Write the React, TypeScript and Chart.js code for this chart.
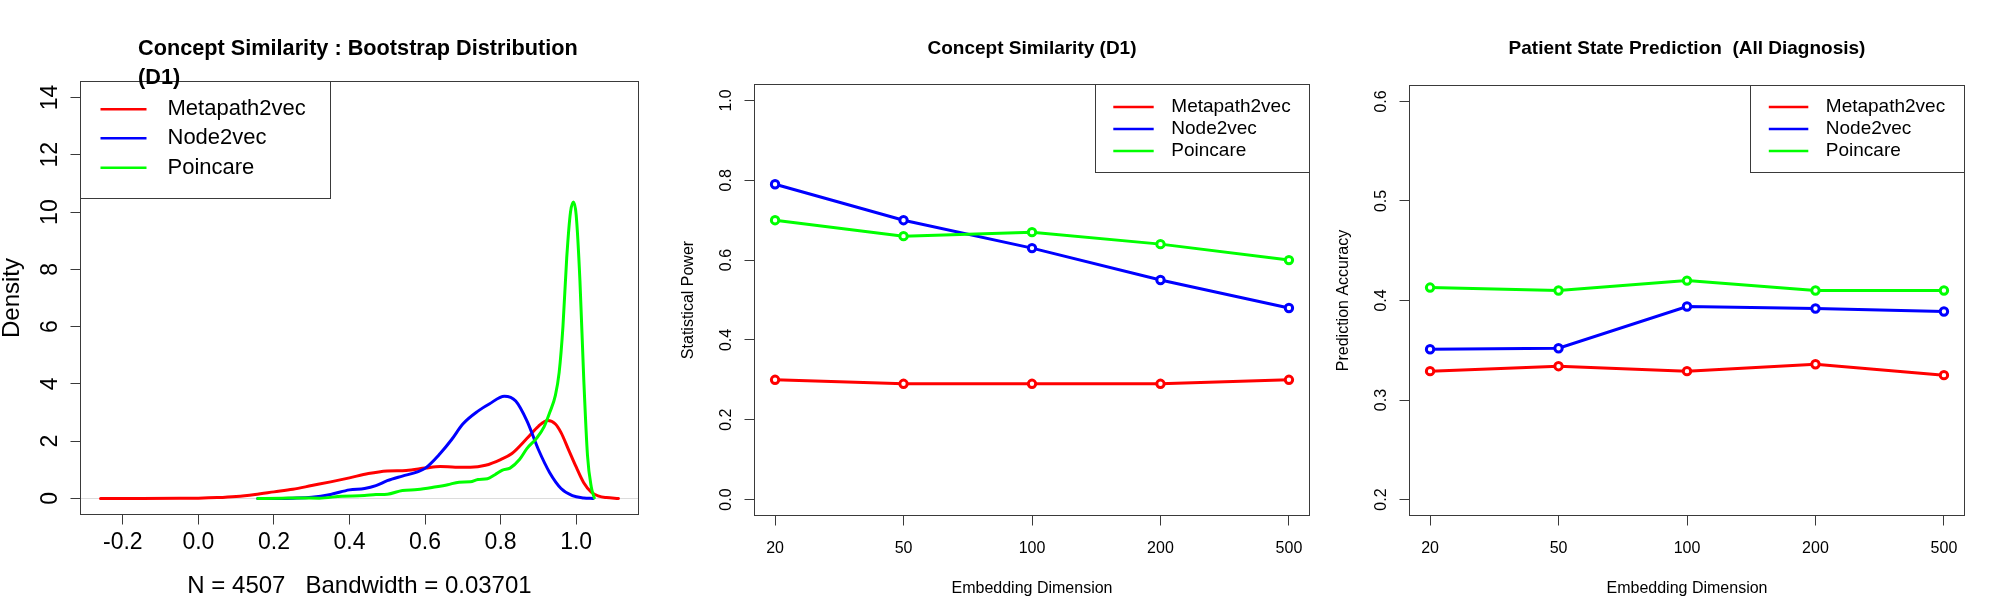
import React, { useEffect, useRef } from "react";
import { Chart, registerables } from "chart.js";

Chart.register(...registerables);

// ---------------- data ----------------
const seriesNames = ["Metapath2vec", "Node2vec", "Poincare"];
const seriesColors = ["#ff0000", "#0000ff", "#00ff00"];

// Panel 1: bootstrap density curves
const densityTicksX = [-0.2, 0.0, 0.2, 0.4, 0.6, 0.8, 1.0];
const densityTicksY = [0, 2, 4, 6, 8, 10, 12, 14];

const metapathDensX = [-0.259, -0.15, -0.05, 0.0, 0.05, 0.1, 0.15, 0.2, 0.25, 0.3, 0.35, 0.4, 0.45, 0.5, 0.55, 0.6, 0.64, 0.68, 0.72, 0.76, 0.8, 0.83, 0.87, 0.9, 0.925, 0.945, 0.96, 0.98, 1.0, 1.02, 1.04, 1.06, 1.08, 1.112];
const metapathDensY = [0, 0, 0.005, 0.01, 0.03, 0.07, 0.14, 0.23, 0.32, 0.45, 0.58, 0.72, 0.87, 0.96, 0.98, 1.06, 1.12, 1.09, 1.09, 1.16, 1.36, 1.57, 2.1, 2.52, 2.72, 2.6, 2.3, 1.7, 1.1, 0.55, 0.22, 0.08, 0.03, 0];

const node2vecDensX = [0.157, 0.2, 0.25, 0.3, 0.35, 0.4, 0.44, 0.47, 0.5, 0.54, 0.58, 0.6, 0.64, 0.67, 0.7, 0.74, 0.77, 0.81, 0.84, 0.87, 0.9, 0.93, 0.96, 0.99, 1.02, 1.045];
const node2vecDensY = [0, 0, 0.01, 0.04, 0.14, 0.3, 0.35, 0.45, 0.62, 0.78, 0.93, 1.05, 1.57, 2.05, 2.6, 3.05, 3.3, 3.57, 3.4, 2.7, 1.71, 0.9, 0.35, 0.1, 0.02, 0];

const poincareDensX = [0.157, 0.22, 0.27, 0.32, 0.38, 0.44, 0.47, 0.5, 0.54, 0.58, 0.63, 0.66, 0.69, 0.72, 0.74, 0.765, 0.785, 0.805, 0.825, 0.85, 0.87, 0.895, 0.915, 0.93, 0.945, 0.955, 0.965, 0.975, 0.985, 0.993, 1.0, 1.01, 1.02, 1.03, 1.04, 1.048];
const poincareDensY = [0, 0.01, 0.02, 0.01, 0.08, 0.1, 0.14, 0.15, 0.28, 0.31, 0.41, 0.48, 0.57, 0.58, 0.66, 0.69, 0.83, 0.99, 1.06, 1.36, 1.75, 2.1, 2.5, 3.0, 3.6, 4.4, 6.0, 8.4, 10.0, 10.35, 9.9, 7.6, 4.2, 1.5, 0.4, 0.02];

// Panels 2 & 3: categories
const embeddingDims = ["20", "50", "100", "200", "500"];

// Panel 2: statistical power
const powerTicks = [0.0, 0.2, 0.4, 0.6, 0.8, 1.0];
const powerMetapath = [0.30, 0.29, 0.29, 0.29, 0.30];
const powerNode2vec = [0.79, 0.70, 0.63, 0.55, 0.48];
const powerPoincare = [0.70, 0.66, 0.67, 0.64, 0.60];

// Panel 3: prediction accuracy
const accuracyTicks = [0.2, 0.3, 0.4, 0.5, 0.6];
const accuracyMetapath = [0.329, 0.334, 0.329, 0.336, 0.325];
const accuracyNode2vec = [0.351, 0.352, 0.394, 0.392, 0.389];
const accuracyPoincare = [0.413, 0.410, 0.420, 0.410, 0.410];

// ---------------- styling / layout ----------------
const FONT = '"Liberation Sans", Arial, Helvetica, sans-serif';
const FRAME = "#3a3a3a";
const PANEL_W = 668;
const PANEL_H = 612;
const AXIS_W = 60;
const AXIS_H = 60;

type Area = { left: number; top: number; right: number; bottom: number };
type LegendSpec = {
  side: "left" | "right";
  width: number;
  height: number;
  line0: number;
  line1: number;
  textX: number;
  rows: number[];
  fontSize: number;
  lineWidth: number;
};
type PanelSpec = {
  area: Area;
  xMin: number;
  xMax: number;
  xTicks: number[];
  xFmt: (v: number) => string;
  yMin: number;
  yMax: number;
  yTicks: number[];
  yFmt: (v: number) => string;
  tickSize: number;
  xTickPad: number;
  yTickPad: number;
  tickLen: number;
  title: string[];
  titleSize: number;
  titleX: number | null;
  titleBaselines: number[];
  xTitle: string;
  xTitleSize: number;
  xTitleBaseline: number;
  yTitle: string;
  yTitleSize: number;
  yTitleBaselineX: number;
  legend: LegendSpec;
  zeroLine: boolean;
  datasets: any[];
};

function densitySet(label: string, color: string, xs: number[], ys: number[], order: number) {
  return {
    label,
    data: xs.map((x, i) => ({ x, y: ys[i] })),
    borderColor: color,
    backgroundColor: color,
    borderWidth: 3,
    pointRadius: 0,
    cubicInterpolationMode: "monotone",
    borderCapStyle: "round",
    borderJoinStyle: "round",
    fill: false,
    order,
  };
}

function pointSet(label: string, color: string, values: number[], order: number) {
  return {
    label,
    data: values.map((y, i) => ({ x: i, y })),
    borderColor: color,
    backgroundColor: color,
    borderWidth: 3,
    tension: 0,
    pointRadius: 3.7,
    pointBorderWidth: 3,
    pointBackgroundColor: "#ffffff",
    pointBorderColor: color,
    borderCapStyle: "round",
    fill: false,
    order,
  };
}

const panel1: PanelSpec = {
  area: { left: 80.5, top: 81.5, right: 638.5, bottom: 514.5 },
  xMin: -0.312,
  xMax: 1.165,
  xTicks: densityTicksX,
  xFmt: (v) => v.toFixed(1),
  yMin: -0.56,
  yMax: 14.56,
  yTicks: densityTicksY,
  yFmt: (v) => String(v),
  tickSize: 23,
  xTickPad: 4.4,
  yTickPad: 7.2,
  tickLen: 10,
  title: ["Concept Similarity : Bootstrap Distribution", "(D1)"],
  titleSize: 21.7,
  titleX: 138,
  titleBaselines: [55, 84],
  xTitle: "N = 4507   Bandwidth = 0.03701",
  xTitleSize: 24,
  xTitleBaseline: 593,
  yTitle: "Density",
  yTitleSize: 24,
  yTitleBaselineX: 18.5,
  legend: { side: "left", width: 250, height: 117, line0: 20, line1: 66, textX: 87, rows: [27.8, 56.8, 86.2], fontSize: 22, lineWidth: 2.5 },
  zeroLine: true,
  datasets: [
    densitySet(seriesNames[0], seriesColors[0], metapathDensX, metapathDensY, 3),
    densitySet(seriesNames[1], seriesColors[1], node2vecDensX, node2vecDensY, 2),
    densitySet(seriesNames[2], seriesColors[2], poincareDensX, poincareDensY, 1),
  ],
};

const panel2: PanelSpec = {
  area: { left: 86.5, top: 84.5, right: 641.5, bottom: 515.5 },
  xMin: -0.16,
  xMax: 4.16,
  xTicks: embeddingDims.map((_, i) => i),
  xFmt: (v) => embeddingDims[Math.round(v)] ?? "",
  yMin: -0.04,
  yMax: 1.04,
  yTicks: powerTicks,
  yFmt: (v) => v.toFixed(1),
  tickSize: 16,
  xTickPad: 13.1,
  yTickPad: 7.0,
  tickLen: 10,
  title: ["Concept Similarity (D1)"],
  titleSize: 19,
  titleX: null,
  titleBaselines: [54],
  xTitle: "Embedding Dimension",
  xTitleSize: 16,
  xTitleBaseline: 593,
  yTitle: "Statistical Power",
  yTitleSize: 16,
  yTitleBaselineX: 24.5,
  legend: { side: "right", width: 214, height: 88, line0: 17.8, line1: 58.2, textX: 75.8, rows: [22.5, 44.5, 66.5], fontSize: 19, lineWidth: 2.5 },
  zeroLine: false,
  datasets: [
    pointSet(seriesNames[0], seriesColors[0], powerMetapath, 3),
    pointSet(seriesNames[1], seriesColors[1], powerNode2vec, 2),
    pointSet(seriesNames[2], seriesColors[2], powerPoincare, 1),
  ],
};

const panel3: PanelSpec = {
  area: { left: 73.5, top: 85.5, right: 628.5, bottom: 515.5 },
  xMin: -0.16,
  xMax: 4.16,
  xTicks: embeddingDims.map((_, i) => i),
  xFmt: (v) => embeddingDims[Math.round(v)] ?? "",
  yMin: 0.184,
  yMax: 0.616,
  yTicks: accuracyTicks,
  yFmt: (v) => v.toFixed(1),
  tickSize: 16,
  xTickPad: 13.1,
  yTickPad: 6.5,
  tickLen: 10,
  title: ["Patient State Prediction  (All Diagnosis)"],
  titleSize: 19,
  titleX: null,
  titleBaselines: [54],
  xTitle: "Embedding Dimension",
  xTitleSize: 16,
  xTitleBaseline: 593,
  yTitle: "Prediction Accuracy",
  yTitleSize: 16,
  yTitleBaselineX: 11.7,
  legend: { side: "right", width: 214, height: 87, line0: 18.3, line1: 57.8, textX: 75.3, rows: [21.5, 43.5, 65.5], fontSize: 19, lineWidth: 2.5 },
  zeroLine: false,
  datasets: [
    pointSet(seriesNames[0], seriesColors[0], accuracyMetapath, 3),
    pointSet(seriesNames[1], seriesColors[1], accuracyNode2vec, 2),
    pointSet(seriesNames[2], seriesColors[2], accuracyPoincare, 1),
  ],
};

function framePlugin(spec: PanelSpec) {
  return {
    id: "rframe",
    beforeDatasetsDraw(chart: any) {
      if (!spec.zeroLine) return;
      const { ctx, chartArea: a } = chart;
      const y = Math.round(chart.scales.y.getPixelForValue(0)) + 0.5;
      ctx.save();
      ctx.strokeStyle = "#dcdcdc";
      ctx.lineWidth = 1;
      ctx.beginPath();
      ctx.moveTo(a.left, y);
      ctx.lineTo(a.right, y);
      ctx.stroke();
      ctx.restore();
    },
    afterDraw(chart: any) {
      const { ctx, chartArea: a } = chart;
      ctx.save();
      // legend
      const lg = spec.legend;
      const bx = lg.side === "left" ? a.left : a.right - lg.width;
      const by = a.top;
      ctx.fillStyle = "#ffffff";
      ctx.fillRect(bx, by, lg.width, lg.height);
      ctx.strokeStyle = FRAME;
      ctx.lineWidth = 1;
      ctx.strokeRect(bx, by, lg.width, lg.height);
      ctx.font = `${lg.fontSize}px ${FONT}`;
      ctx.textAlign = "left";
      ctx.textBaseline = "middle";
      chart.data.datasets.forEach((ds: any, i: number) => {
        const y = by + lg.rows[i];
        ctx.strokeStyle = ds.borderColor;
        ctx.lineWidth = lg.lineWidth;
        ctx.beginPath();
        ctx.moveTo(bx + lg.line0, y);
        ctx.lineTo(bx + lg.line1, y);
        ctx.stroke();
        ctx.fillStyle = "#000000";
        ctx.fillText(ds.label, bx + lg.textX, y);
      });
      // plot box
      ctx.strokeStyle = FRAME;
      ctx.lineWidth = 1;
      ctx.strokeRect(a.left, a.top, a.right - a.left, a.bottom - a.top);
      // titles
      ctx.fillStyle = "#000000";
      ctx.textBaseline = "alphabetic";
      ctx.font = `bold ${spec.titleSize}px ${FONT}`;
      if (spec.titleX !== null) {
        ctx.textAlign = "left";
        spec.title.forEach((t, i) => ctx.fillText(t, spec.titleX as number, spec.titleBaselines[i]));
      } else {
        ctx.textAlign = "center";
        spec.title.forEach((t, i) => ctx.fillText(t, (a.left + a.right) / 2, spec.titleBaselines[i]));
      }
      ctx.font = `${spec.xTitleSize}px ${FONT}`;
      ctx.textAlign = "center";
      ctx.fillText(spec.xTitle, (a.left + a.right) / 2, spec.xTitleBaseline);
      ctx.save();
      ctx.font = `${spec.yTitleSize}px ${FONT}`;
      ctx.translate(spec.yTitleBaselineX, (a.top + a.bottom) / 2);
      ctx.rotate(-Math.PI / 2);
      ctx.textAlign = "center";
      ctx.fillText(spec.yTitle, 0, 0);
      ctx.restore();
      ctx.restore();
    },
  };
}

function axis(kind: "x" | "y", spec: PanelSpec) {
  const isX = kind === "x";
  const tickValues = isX ? spec.xTicks : spec.yTicks;
  const fmt = isX ? spec.xFmt : spec.yFmt;
  return {
    type: "linear",
    position: isX ? "bottom" : "left",
    min: isX ? spec.xMin : spec.yMin,
    max: isX ? spec.xMax : spec.yMax,
    bounds: "data",
    afterBuildTicks: (ax: any) => {
      ax.ticks = tickValues.map((v) => ({ value: v }));
    },
    afterFit: (ax: any) => {
      if (isX) ax.height = AXIS_H;
      else ax.width = AXIS_W;
    },
    grid: {
      display: true,
      drawOnChartArea: false,
      drawTicks: true,
      tickLength: spec.tickLen,
      color: FRAME,
      lineWidth: 1,
    },
    border: { display: false },
    ticks: {
      autoSkip: false,
      includeBounds: false,
      color: "#000000",
      font: { family: FONT, size: spec.tickSize },
      padding: isX ? spec.xTickPad : spec.yTickPad,
      minRotation: isX ? 0 : 90,
      maxRotation: isX ? 0 : 90,
      crossAlign: isX ? "near" : "center",
      callback: (v: any) => fmt(Number(v)),
    },
  };
}

function Panel({ spec, left }: { spec: PanelSpec; left: number }) {
  const ref = useRef<HTMLCanvasElement | null>(null);
  useEffect(() => {
    const canvas = ref.current;
    if (!canvas) return;
    const a = spec.area;
    const chart = new Chart(canvas, {
      type: "line",
      data: { datasets: spec.datasets },
      options: {
        responsive: false,
        maintainAspectRatio: false,
        animation: false,
        devicePixelRatio: 1,
        events: [],
        layout: {
          padding: {
            left: a.left - AXIS_W,
            top: a.top,
            right: PANEL_W - a.right,
            bottom: PANEL_H - a.bottom - AXIS_H,
          },
        },
        plugins: {
          legend: { display: false },
          title: { display: false },
          tooltip: { enabled: false },
        },
        scales: {
          x: axis("x", spec),
          y: axis("y", spec),
        },
      } as any,
      plugins: [framePlugin(spec)],
    } as any);
    return () => chart.destroy();
  }, [spec]);
  return (
    <canvas
      ref={ref}
      width={PANEL_W}
      height={PANEL_H}
      style={{ position: "absolute", left, top: 0, width: PANEL_W, height: PANEL_H }}
    />
  );
}

export default function App() {
  return (
    <div
      style={{
        position: "absolute",
        left: 0,
        top: 0,
        width: 2004,
        height: 612,
        background: "#ffffff",
        overflow: "hidden",
      }}
    >
      <Panel spec={panel1} left={0} />
      <Panel spec={panel2} left={668} />
      <Panel spec={panel3} left={1336} />
    </div>
  );
}
